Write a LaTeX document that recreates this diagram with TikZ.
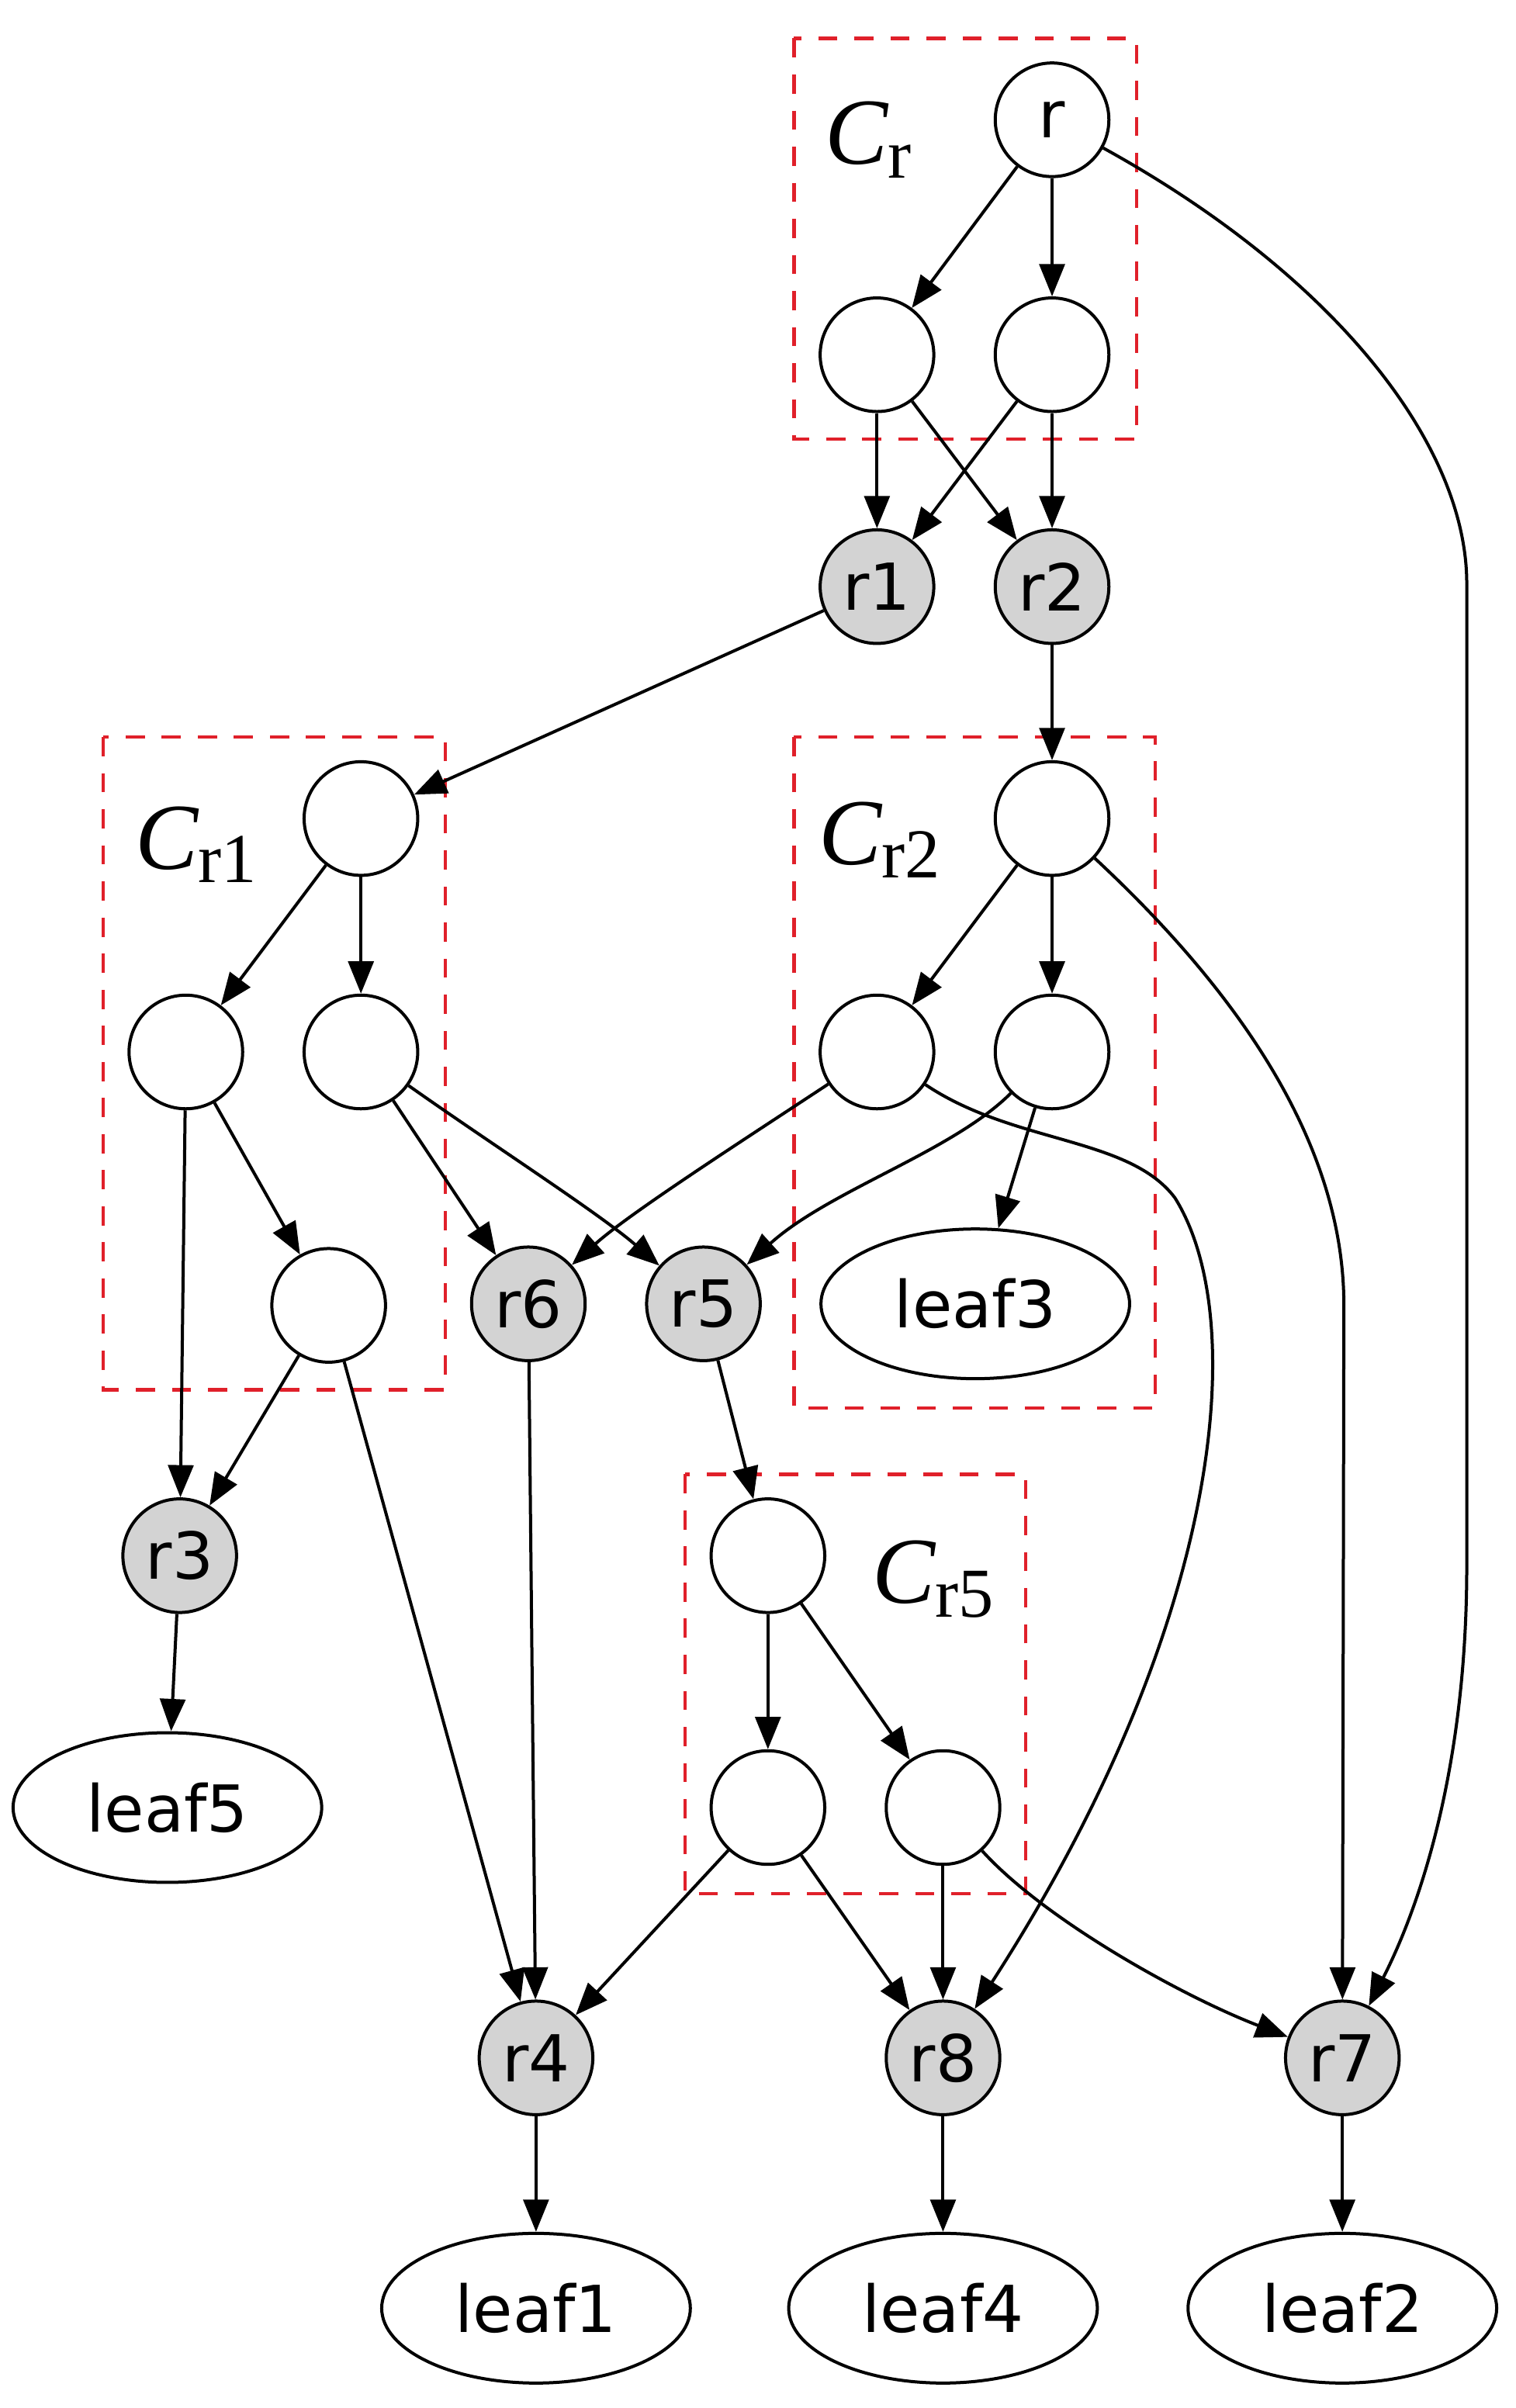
\documentclass[tikz,border=0pt]{standalone}
\usepackage{fontspec}
\setmainfont{DejaVu Sans}
\newfontfamily\clfont{Liberation Serif}
\usetikzlibrary{arrows.meta}
\usetikzlibrary{shapes}
\definecolor{clusterred}{HTML}{E0202A}
\definecolor{rootgray}{HTML}{D3D3D3}
\newcommand{\clname}[1]{{\fontsize{35}{35}\selectfont\itshape C}\raisebox{-5pt}{\fontsize{26}{26}\selectfont #1}}

\begin{document}
\begin{tikzpicture}
		[x=0.02cm,y=-0.02cm,
		 font=\fontsize{24}{24}\selectfont,line width=1.15pt,
		 vertex/.style={circle,draw,minimum size=1.48cm,inner sep=0pt},
		 root/.style={vertex,fill=rootgray},
		 leaf/.style={ellipse,draw,minimum width=4.02cm,minimum height=1.95cm,inner sep=0pt},
		 cluster/.style={draw=clusterred,line width=1.2pt,dash pattern=on 0.25cm off 0.22cm},
		 clabel/.style={anchor=base west,inner sep=0pt,font=\clfont},
		 edge/.style={-{Triangle[length=0.42cm,width=0.33cm]}}]

		\useasboundingbox (0,0) rectangle (987,1568);

		% clusters
		\draw[cluster] (517,25) rectangle (740,286);
		\draw[cluster] (67,480) rectangle (290,905);
		\draw[cluster] (517,480) rectangle (752,917);
		\draw[cluster] (446,960) rectangle (668,1233);
		\node[clabel] (CrLabel) at (536,107) {\clname{r}};
		\node[clabel] (Cr1Label) at (87,566) {\clname{r1}};
		\node[clabel] (Cr2Label) at (532,563) {\clname{r2}};
		\node[clabel] (Cr5Label) at (567,1044) {\clname{r5}};

		\node[vertex] (r) at (685,78) {r};
		\node[vertex] (CrA) at (571,231) {};
		\node[vertex] (CrB) at (685,231) {};
		\node[root] (r1) at (571,382) {r1};
		\node[root] (r2) at (685,382) {r2};

		\node[vertex] (Cr1Top) at (235,533) {};
		\node[vertex] (Cr1A) at (121,685) {};
		\node[vertex] (Cr1B) at (235,685) {};
		\node[vertex] (Cr1C) at (214,850) {};

		\node[vertex] (Cr2Top) at (685,533) {};
		\node[vertex] (Cr2A) at (571,685) {};
		\node[vertex] (Cr2B) at (685,685) {};
		\node[leaf] (leaf3) at (635,849) {leaf3};

		\node[root] (r6) at (344,849) {r6};
		\node[root] (r5) at (458,849) {r5};
		\node[root] (r3) at (117,1013) {r3};
		\node[leaf] (leaf5) at (109,1177) {leaf5};

		\node[vertex] (Cr5Top) at (500,1013) {};
		\node[vertex] (Cr5A) at (500,1177) {};
		\node[vertex] (Cr5B) at (614,1177) {};

		\node[root] (r4) at (349,1340) {r4};
		\node[root] (r8) at (614,1340) {r8};
		\node[root] (r7) at (874,1340) {r7};
		\node[leaf] (leaf1) at (349,1503) {leaf1};
		\node[leaf] (leaf4) at (614,1503) {leaf4};
		\node[leaf] (leaf2) at (874,1503) {leaf2};

		% C_r
		\draw[edge] (r) -- (CrA);
		\draw[edge] (r) -- (CrB);
		\draw[edge] (r) .. controls (870,180) and (955,290) .. (955,380) -- (955,1020) .. controls (955,1150) and (925,1240) .. (r7);
		\draw[edge] (CrA) -- (r1);
		\draw[edge] (CrA) -- (r2);
		\draw[edge] (CrB) -- (r1);
		\draw[edge] (CrB) -- (r2);
		\draw[edge] (r1) -- (Cr1Top);
		\draw[edge] (r2) -- (Cr2Top);

		% C_r1
		\draw[edge] (Cr1Top) -- (Cr1A);
		\draw[edge] (Cr1Top) -- (Cr1B);
		\draw[edge] (Cr1A) -- (r3);
		\draw[edge] (Cr1A) -- (Cr1C);
		\draw[edge] (Cr1C) -- (r3);
		\draw[edge] (Cr1C) -- (r4);
		\draw[edge] (Cr1B) -- (r6);
		\draw[edge] (Cr1B) .. controls (320,745) and (390,790) .. (r5);

		% C_r2
		\draw[edge] (Cr2Top) -- (Cr2A);
		\draw[edge] (Cr2Top) -- (Cr2B);
		\draw[edge] (Cr2Top) .. controls (800,640) and (875,740) .. (875,850) -- (r7);
		\draw[edge] (Cr2A) .. controls (480,745) and (410,790) .. (r6);
		\draw[edge] (Cr2A) .. controls (660,745) and (735,740) .. (765,780) .. controls (815,860) and (795,1060) .. (r8);
		\draw[edge] (Cr2B) .. controls (620,750) and (540,775) .. (r5);
		\draw[edge] (Cr2B) -- (leaf3);

		\draw[edge] (r5) -- (Cr5Top);
		\draw[edge] (r6) -- (r4);
		\draw[edge] (r3) -- (leaf5);

		% C_r5
		\draw[edge] (Cr5Top) -- (Cr5A);
		\draw[edge] (Cr5Top) -- (Cr5B);
		\draw[edge] (Cr5A) -- (r4);
		\draw[edge] (Cr5A) -- (r8);
		\draw[edge] (Cr5B) -- (r8);
		\draw[edge] (Cr5B) .. controls (680,1250) and (770,1300) .. (r7);

		\draw[edge] (r4) -- (leaf1);
		\draw[edge] (r8) -- (leaf4);
		\draw[edge] (r7) -- (leaf2);
	\end{tikzpicture}
\end{document}
